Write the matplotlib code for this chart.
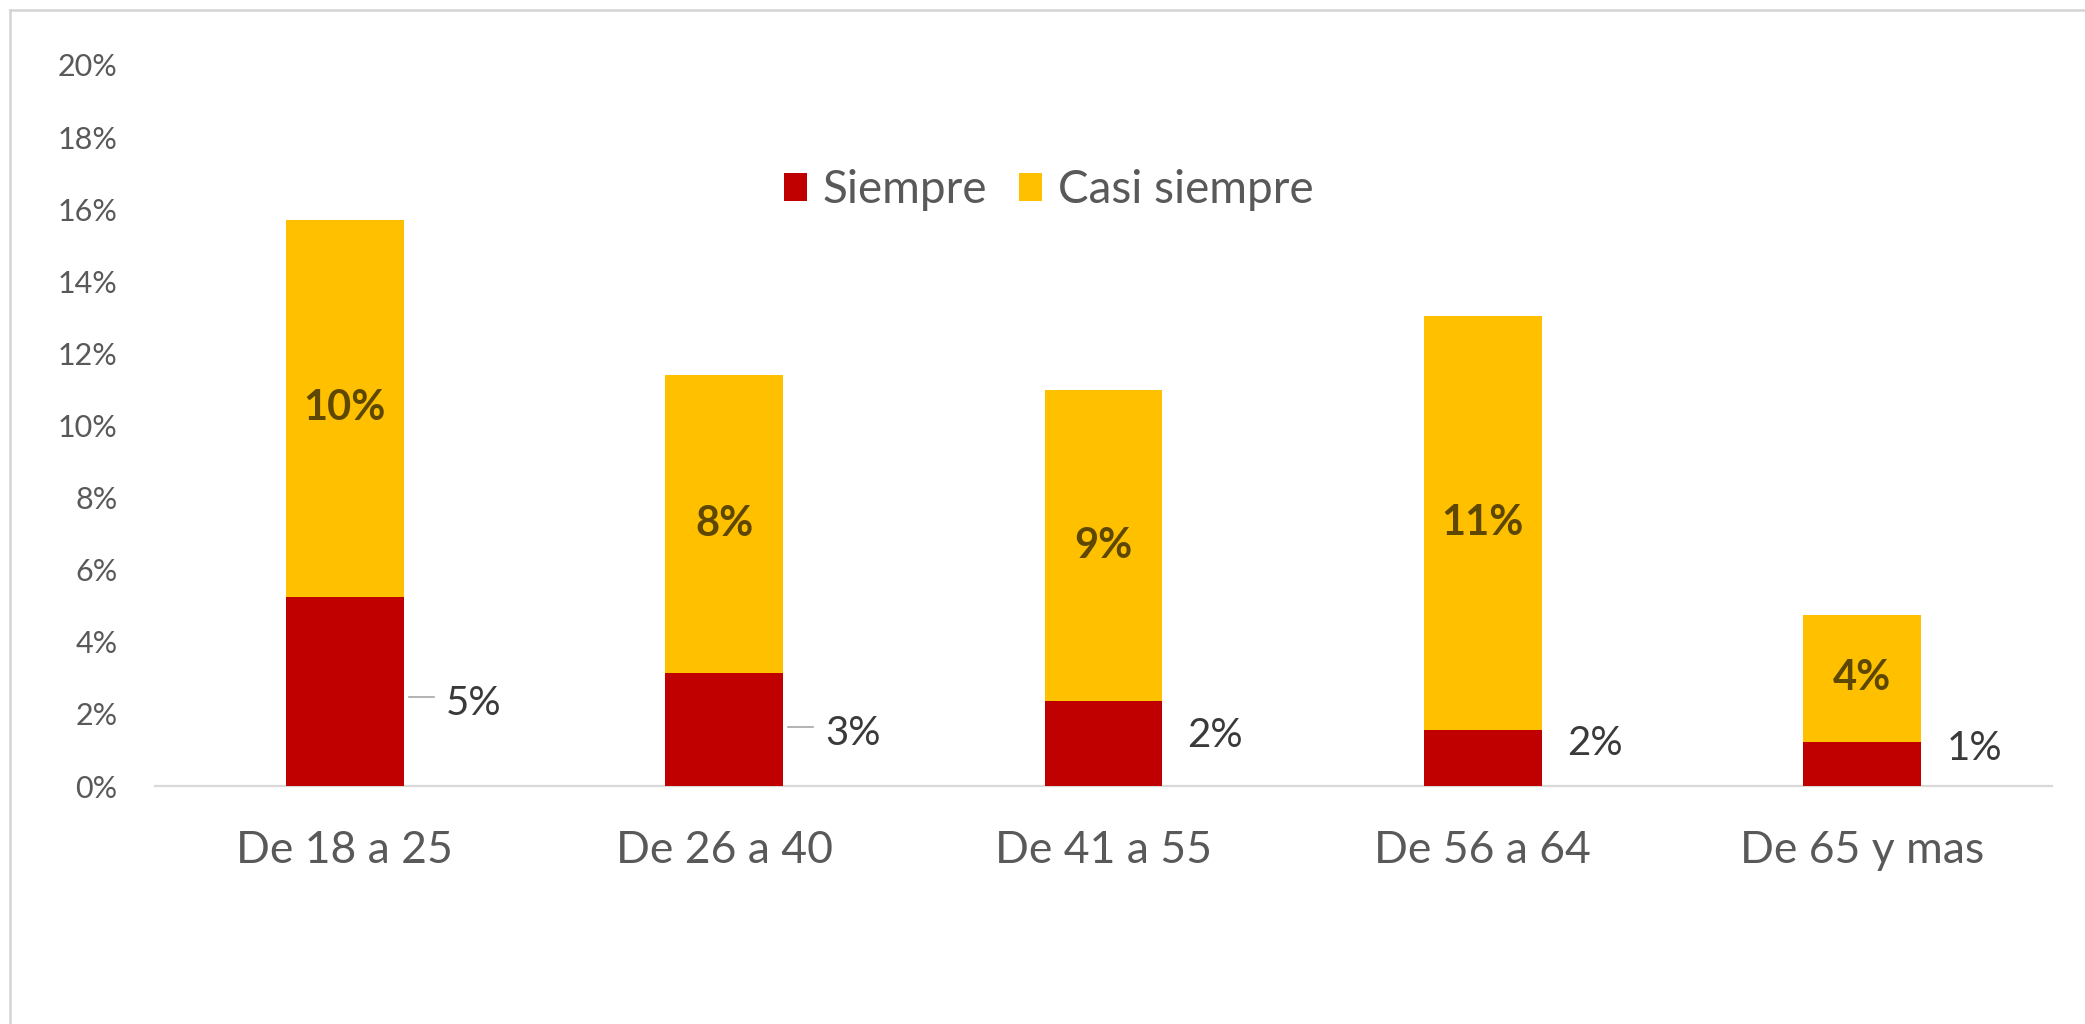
import matplotlib
matplotlib.use("Agg")
import matplotlib.pyplot as plt
from matplotlib.lines import Line2D
from matplotlib.patches import Patch

# ---- data ----
categories = ["De 18 a 25", "De 26 a 40", "De 41 a 55", "De 56 a 64", "De 65 y mas"]
siempre = [0.0525, 0.0313, 0.0236, 0.0155, 0.0123]
casi_siempre = [0.1045, 0.0827, 0.0862, 0.1148, 0.0352]
series_names = ["Siempre", "Casi siempre"]
ytick_values = [0.00, 0.02, 0.04, 0.06, 0.08, 0.10, 0.12, 0.14, 0.16, 0.18, 0.20]
ytick_labels = ["0%", "2%", "4%", "6%", "8%", "10%", "12%", "14%", "16%", "18%", "20%"]

# ---- layout / style ----
outer_label_y = [0.0230, 0.0147, 0.0141, 0.0119, 0.0105]   # vertical anchor of "Siempre" labels
leader_bars = [0, 1]                                         # labels drawn with a short leader line
RED = "#C00000"
GOLD = "#FFC000"
TXT = "#595959"
FONT = ["Lato", "DejaVu Sans"]

plt.rcParams["font.family"] = FONT

W, H = 2085, 1024
fig = plt.figure(figsize=(W / 100, H / 100), dpi=100)
fig.patch.set_facecolor("white")

ax_left, ax_right = 155 / W, 2052 / W
ax_bottom, ax_top = 1 - 786 / H, 1 - 65 / H
ax = fig.add_axes([ax_left, ax_bottom, ax_right - ax_left, ax_top - ax_bottom])

x = list(range(len(categories)))
bw = 0.311
ax.bar(x, siempre, width=bw, color=RED, label=series_names[0], zorder=3)
ax.bar(x, casi_siempre, width=bw, bottom=siempre, color=GOLD, label=series_names[1], zorder=3)

ax.set_xlim(-0.5, len(categories) - 0.5)
ax.set_ylim(0, 0.20)
ax.set_yticks(ytick_values)
ax.set_yticklabels(ytick_labels)
ax.set_xticks(x)
ax.set_xticklabels(categories)

for s in ["top", "right", "left"]:
    ax.spines[s].set_visible(False)
ax.spines["bottom"].set_color("#d9d9d9")
ax.spines["bottom"].set_linewidth(1.6)
ax.tick_params(axis="both", length=0)
ax.tick_params(axis="y", pad=27, labelsize=22, labelcolor=TXT)
ax.tick_params(axis="x", pad=32, labelsize=32, labelcolor=TXT)

# value labels inside the "Casi siempre" segments
for i in x:
    mid = siempre[i] + casi_siempre[i] / 2
    ax.text(i, mid, f"{casi_siempre[i] * 100:.0f}%", ha="center", va="center",
            fontsize=30, fontweight="bold", color="#5e4700", zorder=4)

# value labels to the right of the "Siempre" segments
px_per_unit = (2052 - 155) / len(categories)
for i in x:
    right = i + bw / 2
    if i in leader_bars:
        x0 = right + 5 / px_per_unit
        x1 = right + 30 / px_per_unit
        ly = outer_label_y[i] + 6 / 3605
        ax.add_line(Line2D([x0, x1], [ly, ly], color="#a6a6a6", lw=1.2, zorder=4))
        gap = 42
    else:
        gap = 25
    ax.annotate(f"{siempre[i] * 100:.0f}%", xy=(right, outer_label_y[i]),
                xytext=(gap * 0.72, 0), textcoords="offset points",
                ha="left", va="center", fontsize=29, color="#3a3a3a", zorder=4)

# legend
handles = [Patch(facecolor=RED), Patch(facecolor=GOLD)]
fig.legend(handles, series_names, loc="center", bbox_to_anchor=(1049 / W, 1 - 190 / H),
           ncol=2, frameon=False, fontsize=33, labelcolor=TXT,
           handlelength=0.5, handleheight=0.55, handletextpad=0.35, columnspacing=0.7)

# chart-area border (left and top edges)
fig.add_artist(Line2D([10 / W, 10 / W], [0, 1 - 10 / H], transform=fig.transFigure,
                      color="#d4d4d4", lw=1.8))
fig.add_artist(Line2D([10 / W, 1], [1 - 10 / H, 1 - 10 / H], transform=fig.transFigure,
                      color="#d4d4d4", lw=1.8))

fig.savefig("out.png", dpi=100, facecolor="white")
